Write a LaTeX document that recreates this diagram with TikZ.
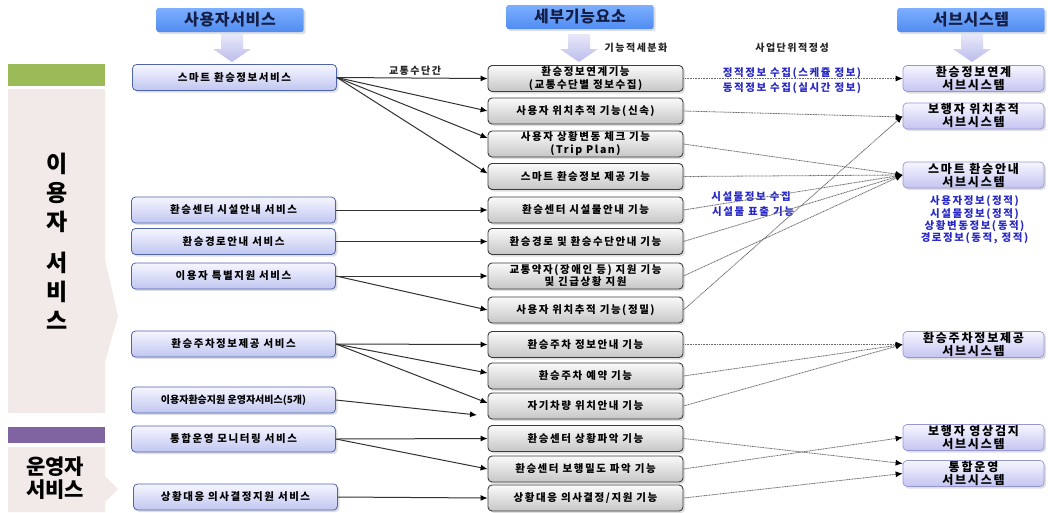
\documentclass[tikz,border=0pt]{standalone}
\usepackage{fontspec}
\setmainfont{Noto Sans CJK KR}
\newfontfamily\krsp[LetterSpace=15]{Noto Sans CJK KR}
\newfontfamily\krhd[LetterSpace=4]{Noto Sans CJK KR}
\usetikzlibrary{arrows.meta,shadows}
\definecolor{hdrtop}{RGB}{125,175,255}
\definecolor{hdrbot}{RGB}{80,140,240}
\definecolor{hdrtxt}{RGB}{20,30,70}
\definecolor{svctop}{RGB}{246,246,255}
\definecolor{svcbot}{RGB}{192,198,240}
\definecolor{svcdraw}{RGB}{80,100,170}
\definecolor{funtop}{RGB}{250,250,250}
\definecolor{funbot}{RGB}{198,198,198}
\definecolor{fundraw}{RGB}{60,60,60}
\definecolor{subtop}{RGB}{246,246,255}
\definecolor{subbot}{RGB}{196,196,242}
\definecolor{subdraw}{RGB}{150,150,210}
\definecolor{pinkbg}{RGB}{242,233,233}
\definecolor{greenbar}{RGB}{155,187,89}
\definecolor{purplebar}{RGB}{128,100,162}
\definecolor{lblue}{RGB}{40,40,200}
\definecolor{arrtop}{RGB}{232,232,250}
\definecolor{arrbot}{RGB}{188,188,235}
\definecolor{solidln}{RGB}{50,50,50}
\definecolor{dotln}{RGB}{105,105,105}
\newcommand\mybx{\krsp\bfseries\fontsize{10.5}{13}\selectfont}
\newcommand\mysb{\krsp\bfseries\fontsize{12}{13}\selectfont}
\newcommand\mylb{\krsp\bfseries\fontsize{10}{11}\selectfont}
\newcommand\mybxc{\bfseries\fontsize{10}{12}\selectfont}
\tikzset{
  shd/.style={drop shadow={opacity=0.25,shadow xshift=2pt,shadow yshift=-2pt}},
  hdr/.style={rounded corners=2pt, top color=hdrtop, bottom color=hdrbot,
    minimum width=147pt, minimum height=24pt, inner sep=0pt, text=hdrtxt,
    font=\krhd\bfseries\fontsize{16}{18}\selectfont, shd},
  svc/.style={rounded corners=4pt, draw=svcdraw, line width=0.8pt,
    top color=svctop, bottom color=svcbot, minimum width=204pt,
    minimum height=26pt, inner sep=0pt, text=black, font=\mybx, shd},
  fun/.style={rounded corners=4pt, draw=fundraw, line width=0.9pt,
    top color=funtop, bottom color=funbot, minimum width=195pt,
    minimum height=26pt, inner sep=0pt, align=center, text=black, font=\mybx, shd},
  sub/.style={rounded corners=4pt, draw=subdraw, line width=0.7pt,
    top color=subtop, bottom color=subbot, minimum width=141pt,
    minimum height=26pt, inner sep=0pt, align=center, text=black, font=\mysb, shd},
  side/.style={inner sep=0pt, align=center, text=black},
  lbl/.style={inner sep=0pt, font=\mylb, text=black!85},
  bl/.style={inner sep=0pt, font=\mybx, text=lblue},
  sarr/.style={draw=solidln, line width=1pt, -{Latex[length=7pt,width=6pt,color=black]}},
  darr/.style={draw=dotln, line width=0.8pt, dash pattern=on 1pt off 0.6pt,
    -{Latex[length=7pt,width=6pt,color=black]}},
  downarrow/.pic={\shade[top color=arrtop,bottom color=arrbot]
    (-11,0) -- (11,0) -- (11,15) -- (19,15) -- (0,28) -- (-19,15) -- (-11,15) -- cycle;}
}
\begin{document}
\begin{tikzpicture}[x=1pt,y=-1pt]
\useasboundingbox[fill=white] (0,0) rectangle (1048,512);
% side panels
\fill[greenbar] (8,64) rectangle (105,86);
\fill[pinkbg] (8,89) -- (105,89) -- (105,260) -- (118,316) -- (105,362) -- (105,413) -- (8,413) -- cycle;
\fill[purplebar] (8,427) rectangle (105,443);
\fill[pinkbg] (8,447) -- (105,447) -- (105,476) -- (118,489) -- (105,502) -- (105,512) -- (8,512) -- cycle;
\node[side, font=\bfseries\fontsize{23}{29}\selectfont] (usrtxt) at (57,241) {이\\용\\자\\[12pt]서\\비\\스};
\node[side, font=\bfseries\fontsize{21}{23}\selectfont] (optxt) at (55,478) {운영자\\서비스};
% headers
\node[hdr] (h1) at (230,20) {사용자서비스};
\node[hdr] (h2) at (580,17) {세부기능요소};
\node[hdr] (h3) at (971,20) {서브시스템};
\pic at (232,34) {downarrow};
\pic at (579,34) {downarrow};
\pic at (972,34) {downarrow};
% services
\node[svc] (s1) at (234.5,77.5) {스마트 환승정보서비스};
\node[svc] (s2) at (233.5,210) {환승센터 시설안내 서비스};
\node[svc] (s3) at (233.5,241.5) {환승경로안내 서비스};
\node[svc] (s4) at (233.5,276) {이용자 특별지원 서비스};
\node[svc] (s5) at (233.5,344) {환승주차정보제공 서비스};
\node[svc, font=\mybxc] (s6) at (233.5,400) {이용자환승지원 운영자서비스(5개)};
\node[svc] (s7) at (233.5,439) {통합운영 모니터링 서비스};
\node[svc] (s8) at (235.5,497) {상황대응 의사결정지원 서비스};
% functions
\node[fun] (f1) at (585.5,78.5) {환승정보연계기능\\(교통수단별 정보수집)};
\node[fun] (f2) at (585.5,111) {사용자 위치추적 기능(신속)};
\node[fun] (f3) at (585.5,144) {사용자 상황변동 체크 기능\\(Trip Plan)};
\node[fun] (f4) at (585.5,176.5) {스마트 환승정보 제공 기능};
\node[fun] (f5) at (585.5,210) {환승센터 시설물안내 기능};
\node[fun] (f6) at (585.5,241.5) {환승경로 및 환승수단안내 기능};
\node[fun] (f7) at (585.5,276) {교통약자(장애인 등) 지원 기능\\[-1pt]및 긴급상황 지원};
\node[fun] (f8) at (585.5,310) {사용자 위치추적 기능(정밀)};
\node[fun] (f9) at (585.5,344.5) {환승주차 정보안내 기능};
\node[fun] (f10) at (585.5,376) {환승주차 예약 기능};
\node[fun] (f11) at (585.5,406) {자기차량 위치안내 기능};
\node[fun] (f12) at (585.5,438.5) {환승센터 상황파악 기능};
\node[fun] (f13) at (585.5,469) {환승센터 보행밀도 파악 기능};
\node[fun] (f14) at (585.5,498) {상황대응 의사결정/지원 기능};
% subsystems
\node[sub] (u1) at (973.5,78.5) {환승정보연계\\서브시스템};
\node[sub] (u2) at (973.5,116) {보행자 위치추적\\서브시스템};
\node[sub] (u3) at (973.5,175) {스마트 환승안내\\서브시스템};
\node[sub] (u4) at (973.5,344.5) {환승주차정보제공\\서브시스템};
\node[sub] (u5) at (973.5,437.5) {보행자 영상검지\\서브시스템};
\node[sub] (u6) at (973.5,473.5) {통합운영\\서브시스템};
% labels
\node[lbl] (l1) at (415,71) {교통수단간};
\node[lbl] (l2) at (636,48) {기능적세분화};
\node[lbl] (l3) at (792,48) {사업단위적정성};
\node[bl] (b1) at (792,73) {정적정보 수집(스케쥴 정보)};
\node[bl] (b2) at (792,88) {동적정보 수집(실시간 정보)};
\node[bl] (b3) at (751,197) {시설물정보 수집};
\node[bl] (b4) at (753,212) {시설물 표출 기능};
\node[bl, align=center, font=\krsp\bfseries\fontsize{10.5}{12.3}\selectfont] (b5) at (974.5,220)
  {사용자정보(정적)\\시설물정보(정적)\\상황변동정보(동적)\\경로정보(동적, 정적)};
% solid connectors
\draw[sarr] (s1.east) -- (f1.west);
\draw[sarr] (s1.east) -- (f2.west);
\draw[sarr] (s1.east) -- ([yshift=6pt]f3.west);
\draw[sarr] (s1.east) -- ([yshift=3pt]f4.west);
\draw[sarr] (s2.east) -- (f5.west);
\draw[sarr] (s3.east) -- (f6.west);
\draw[sarr] (s4.east) -- (f7.west);
\draw[sarr] (s4.east) -- (f8.west);
\draw[sarr] (s5.east) -- (f9.west);
\draw[sarr] (s5.east) -- ([yshift=3pt]f10.west);
\draw[sarr] (s5.east) -- ([yshift=3pt]f11.west);
\coordinate (free6) at (477,415);
\draw[sarr] (s6.east) -- (free6);
\draw[sarr] (s7.east) -- (f12.west);
\draw[sarr] (s7.east) -- (f13.west);
\draw[sarr] (s8.east) -- (f14.west);
% dotted connectors
\draw[darr] (f1.east) -- (u1.west);
\draw[darr] (f2.east) -- ([yshift=-1pt]u2.west);
\draw[darr] (f3.east) -- (u3.west);
\draw[darr] (f4.east) -- (u3.west);
\draw[darr] (f5.east) -- (u3.west);
\draw[darr] (f6.east) -- (u3.west);
\draw[darr] (f7.east) -- (u3.west);
\draw[darr] (f8.east) -- (u2.west);
\draw[darr] (f9.east) -- (u4.west);
\draw[darr] (f10.east) -- (u4.west);
\draw[darr] (f11.east) -- (u4.west);
\draw[darr] (f12.east) -- ([yshift=10pt]u6.west);
\draw[darr] (f13.east) -- (u5.west);
\draw[darr] (f14.east) -- (u6.west);
\end{tikzpicture}
\end{document}
